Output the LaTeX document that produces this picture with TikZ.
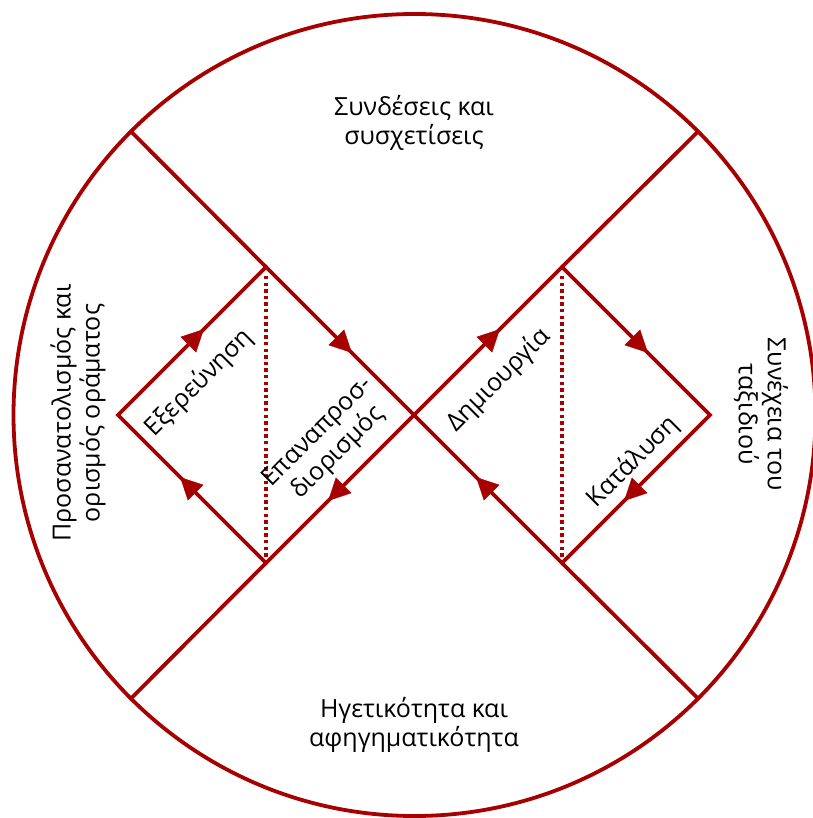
\documentclass[tikz,border=0pt]{standalone}
\usepackage{fontspec}
\setmainfont{Open Sans}
\usetikzlibrary{arrows.meta,decorations.markings,calc}
\definecolor{dred}{RGB}{166,0,0}
\tikzset{
  redline/.style={draw=dred, line width=3.8pt, line join=miter},
  dotline/.style={draw=dred, line width=3.4pt, dash pattern=on 3.4pt off 3.2pt},
  arrowedge/.style={decoration={markings, mark=at position 0.58 with {\arrow[dred]{Triangle[length=22pt,width=22pt]}}}, decorate},
  lbl/.style={font=\fontsize{25}{29}\selectfont, align=center, text=black, inner sep=0pt}
}
\begin{document}
\begin{tikzpicture}[x=1pt,y=-1pt]
\useasboundingbox (0,0) rectangle (812,818);
\fill[white] (0,0) rectangle (812,818);
% key points
\coordinate (O) at (414.5,415);
\coordinate (C) at (414,415);
\coordinate (TL) at ($(O)+(-283.5,-283.5)$);
\coordinate (TR) at ($(O)+(283.5,-283.5)$);
\coordinate (BL) at ($(O)+(-283.5,283.5)$);
\coordinate (BR) at ($(O)+(283.5,283.5)$);
\coordinate (LT) at (266,267);
\coordinate (LL) at (118,415);
\coordinate (LB) at (266,563);
\coordinate (RT) at (562,267);
\coordinate (RR) at (710,415);
\coordinate (RB) at (562,563);
% circle
\draw[redline] (O) circle[radius=401pt];
% big X lines
\draw[redline] (TL) -- (LT);
\draw[redline] (TR) -- (RT);
\draw[redline] (BL) -- (LB);
\draw[redline] (BR) -- (RB);
% diamonds
\draw[redline] (C) -- (LB) -- (LL) -- (LT) -- cycle;
\draw[redline] (C) -- (RT) -- (RR) -- (RB) -- cycle;
% arrows
\path[arrowedge] (C) -- (LB);
\path[arrowedge] (LB) -- (LL);
\path[arrowedge] (LL) -- (LT);
\path[arrowedge] (LT) -- (C);
\path[arrowedge] (C) -- (RT);
\path[arrowedge] (RT) -- (RR);
\path[arrowedge] (RR) -- (RB);
\path[arrowedge] (RB) -- (C);
% dotted lines
\draw[dotline, shorten <=9pt, shorten >=6pt] (LT) -- (LB);
\draw[dotline, shorten <=9pt, shorten >=6pt] (RT) -- (RB);
% labels
\node[lbl] (top) at (414,123) {Συνδέσεις και\\συσχετίσεις};
\node[lbl] (bot) at (414,725) {Ηγετικότητα και\\αφηγηματικότητα};
\node[lbl, rotate=90] (left) at (78,413) {Προσανατολισμός και\\ορισμός οράματος};
\node[lbl, rotate=-90] (right) at (761,414) {Συνέχεια του\\ταξιδιού};
\node[lbl, rotate=45] (exp) at (199,383) {Εξερεύνηση};
\node[lbl, rotate=45] (rep) at (328,443) {Επαναπροσ-\\διορισμός};
\node[lbl, rotate=45] (cre) at (499,380) {Δημιουργία};
\node[lbl, rotate=45] (cat) at (633,462) {Κατάλυση};
\end{tikzpicture}
\end{document}
